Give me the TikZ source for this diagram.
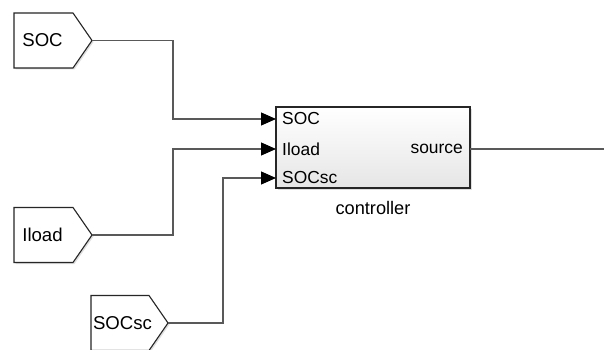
\documentclass[tikz,border=0pt]{standalone}
\usepackage{fontspec}
\setmainfont{Liberation Sans}
\usetikzlibrary{arrows.meta,calc,shadows}
\begin{document}
\begin{tikzpicture}[x=1pt,y=-1pt,
  inbody/.style={minimum width=59pt,minimum height=55pt,inner sep=0pt,outer sep=0pt,font=\fontsize{18.6}{20}\selectfont},
  inshape/.style={draw=black!85,line width=1.1pt,fill=white,line join=miter,drop shadow={shadow xshift=1.5pt,shadow yshift=-1.5pt,opacity=.25}},
  wire/.style={draw=black!65,line width=1.2pt},
  sig/.style={wire,-{Triangle[length=15pt,width=13pt,fill=black,color=black]}},
  port/.style={anchor=west,inner sep=0pt,font=\fontsize{17.4}{19}\selectfont},
  ctrlbox/.style={draw=black!85,line width=1.1pt,minimum width=194pt,minimum height=81pt,inner sep=0pt,outer sep=0pt,top color=white,bottom color=black!10,drop shadow={shadow xshift=1.5pt,shadow yshift=-1.5pt,opacity=.25}}
]
\useasboundingbox (0,0) rectangle (604,350);
\clip (0,0) rectangle (604,350);
\fill[white] (0,0) rectangle (604,350);

% inports
\node[inbody] (soc) at (43.5,40.5) {};
\coordinate (socout) at ($(soc.east)+(19,0)$);
\path[inshape] (soc.north west) -- (soc.north east) -- (socout) -- (soc.south east) -- (soc.south west) -- cycle;
\node[inbody,minimum width=0pt] (soctxt) at (42.5,40.5) {SOC};

\node[inbody] (iload) at (43.5,235) {};
\coordinate (iloadout) at ($(iload.east)+(19,0)$);
\path[inshape] (iload.north west) -- (iload.north east) -- (iloadout) -- (iload.south east) -- (iload.south west) -- cycle;
\node[inbody,minimum width=0pt] (iloadtxt) at (42.5,235) {Iload};

\node[inbody,minimum width=58pt] (socsc) at (120,323) {};
\coordinate (socscout) at ($(socsc.east)+(19,0)$);
\path[inshape] (socsc.north west) -- (socsc.north east) -- (socscout) -- (socsc.south east) -- (socsc.south west) -- cycle;
\node[inbody,minimum width=0pt] (socsctxt) at (122.5,323) {SOCsc};

% controller
\node[ctrlbox] (ctrl) at (373,147.5) {};
\coordinate (p1) at (276,119);
\coordinate (p2) at (276,149);
\coordinate (p3) at (276,178);
\coordinate (pout) at (470,149);
\coordinate (outend) at (604,149);
\node[port] (l1) at (282,119) {SOC};
\node[port] (l2) at (282,149) {Iload};
\node[port] (l3) at (282,178) {SOCsc};
\node[port,anchor=east] (l4) at (463,149) {source};
\node[inner sep=0pt,font=\fontsize{18.2}{20}\selectfont] (clabel) at (373,208) {controller};

% wires
\draw[sig] (socout) -- (173,40.5) |- (p1);
\draw[sig] (iloadout) -- (173,235) |- (p2);
\draw[sig] (socscout) -- (223,323) |- (p3);
\draw[wire] (pout) -- (outend);
\end{tikzpicture}
\end{document}
